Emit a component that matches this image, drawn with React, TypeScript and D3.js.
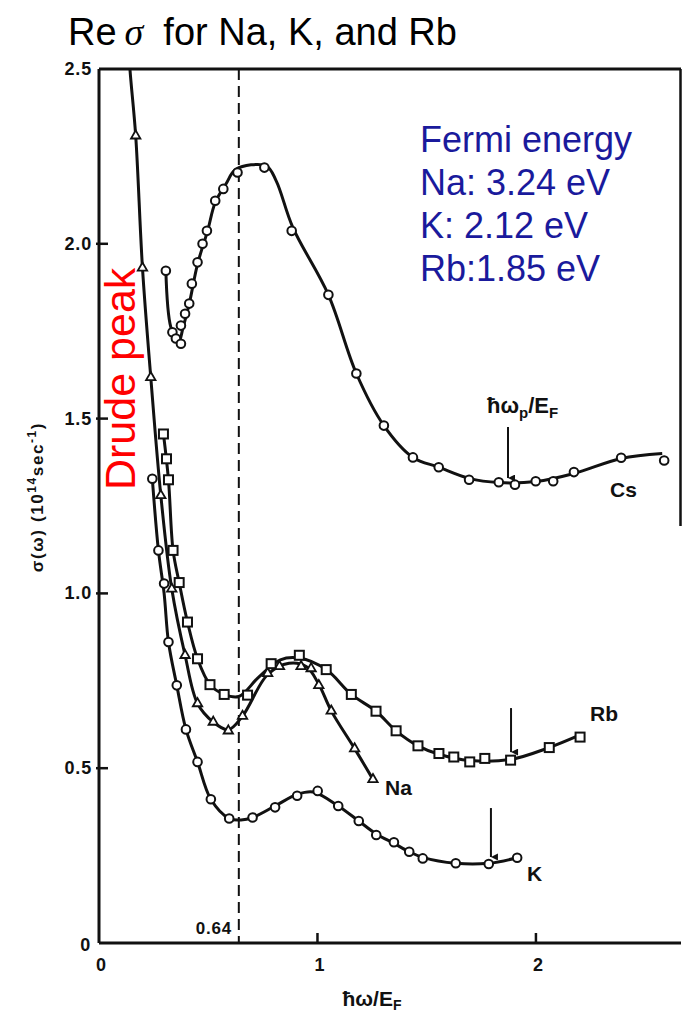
import React, { useEffect } from "react";
import * as d3 from "d3";

type P = [number, number];

// ---------- data (x = ħω/E_F, y = σ(ω) in 10^14 s^-1) ----------
const xTicks = [0, 1, 2];
const xTickLabels = ["0", "1", "2"];
const yTicks = [0, 0.5, 1.0, 1.5, 2.0, 2.5];
const yTickLabels = ["0", "0.5", "1.0", "1.5", "2.0", "2.5"];
const fermiLines = ["Fermi energy", "Na: 3.24 eV", "K: 2.12 eV", "Rb:1.85 eV"];
const dashedX = 0.64;

const csPoints: P[] = [
  [0.306, 1.923], [0.336, 1.747], [0.352, 1.729], [0.375, 1.714], [0.375, 1.766],
  [0.394, 1.8], [0.413, 1.829], [0.425, 1.886], [0.451, 1.947], [0.474, 2.0],
  [0.494, 2.037], [0.532, 2.123], [0.569, 2.157], [0.634, 2.204], [0.757, 2.218],
  [0.882, 2.037], [1.05, 1.854], [1.178, 1.629], [1.304, 1.48], [1.437, 1.389],
  [1.555, 1.361], [1.694, 1.325], [1.83, 1.318], [1.904, 1.311], [1.999, 1.321],
  [2.079, 1.321], [2.174, 1.347], [2.39, 1.388], [2.587, 1.38],
];
const csCurve: P[] = [
  [0.306, 1.923], [0.329, 1.761], [0.364, 1.718], [0.385, 1.761], [0.413, 1.828],
  [0.451, 1.942], [0.497, 2.037], [0.532, 2.118], [0.581, 2.171], [0.627, 2.213],
  [0.765, 2.223], [0.811, 2.18], [0.887, 2.047], [1.05, 1.854], [1.178, 1.629],
  [1.304, 1.48], [1.437, 1.389], [1.555, 1.361], [1.694, 1.329], [1.83, 1.317],
  [2.0, 1.32], [2.174, 1.343], [2.39, 1.386], [2.578, 1.4],
];

const naPoints: P[] = [
  [0.168, 2.309], [0.199, 1.931], [0.237, 1.618], [0.283, 1.28], [0.333, 1.013],
  [0.394, 0.823], [0.451, 0.685], [0.523, 0.632], [0.592, 0.607], [0.657, 0.649],
  [0.772, 0.771], [0.826, 0.791], [0.925, 0.791], [0.971, 0.785], [1.006, 0.737],
  [1.063, 0.664], [1.17, 0.556], [1.254, 0.468],
];
const naCurve: P[] = [
  [0.13, 2.62], [0.142, 2.497], [0.168, 2.309], [0.199, 1.931], [0.237, 1.618],
  [0.283, 1.28], [0.333, 1.013], [0.394, 0.823], [0.451, 0.685], [0.523, 0.632],
  [0.592, 0.61], [0.657, 0.649], [0.772, 0.768], [0.87, 0.8], [0.95, 0.79],
  [1.006, 0.74], [1.063, 0.664], [1.17, 0.556], [1.254, 0.468],
];

const rbPoints: P[] = [
  [0.295, 1.456], [0.309, 1.385], [0.318, 1.325], [0.339, 1.123], [0.367, 1.031],
  [0.405, 0.918], [0.451, 0.813], [0.508, 0.739], [0.573, 0.711], [0.68, 0.709],
  [0.788, 0.799], [0.917, 0.823], [1.04, 0.782], [1.155, 0.711], [1.268, 0.663],
  [1.36, 0.607], [1.46, 0.564], [1.556, 0.542], [1.624, 0.532], [1.697, 0.518],
  [1.766, 0.528], [1.884, 0.523], [2.061, 0.559], [2.202, 0.589],
];
const rbCurve: P[] = [
  [0.295, 1.456], [0.318, 1.325], [0.339, 1.123], [0.367, 1.031], [0.405, 0.918],
  [0.451, 0.813], [0.508, 0.739], [0.573, 0.711], [0.64, 0.705], [0.73, 0.76],
  [0.83, 0.81], [0.917, 0.815], [1.04, 0.782], [1.155, 0.711], [1.268, 0.663],
  [1.36, 0.607], [1.46, 0.564], [1.556, 0.54], [1.697, 0.522], [1.884, 0.525],
  [2.061, 0.559], [2.202, 0.595],
];

const kPoints: P[] = [
  [0.244, 1.328], [0.272, 1.123], [0.298, 1.028], [0.318, 0.861], [0.356, 0.737],
  [0.398, 0.611], [0.451, 0.518], [0.512, 0.411], [0.596, 0.356], [0.703, 0.359],
  [0.806, 0.388], [0.907, 0.421], [1.001, 0.435], [1.095, 0.392], [1.189, 0.349],
  [1.269, 0.309], [1.35, 0.288], [1.42, 0.261], [1.482, 0.242], [1.633, 0.228],
  [1.784, 0.226], [1.914, 0.244],
];
const kCurve: P[] = [
  [0.244, 1.328], [0.272, 1.123], [0.298, 1.0], [0.318, 0.861], [0.356, 0.737],
  [0.398, 0.611], [0.451, 0.518], [0.512, 0.411], [0.596, 0.356], [0.65, 0.352],
  [0.703, 0.359], [0.806, 0.392], [0.907, 0.425], [0.98, 0.432], [1.095, 0.392],
  [1.189, 0.349], [1.269, 0.312], [1.35, 0.285], [1.42, 0.261], [1.482, 0.245],
  [1.633, 0.228], [1.784, 0.228], [1.914, 0.244],
];

// arrows marking ħω_p/E_F : [x, yTop, yBottom]
const plasmaArrows: [number, number, number][] = [
  [1.872, 1.476, 1.33],
  [1.886, 0.672, 0.546],
  [1.794, 0.386, 0.246],
];

export default function App() {
  useEffect(() => {
    document.body.style.margin = "0";
  }, []);

  const W = 682;
  const H = 1021;
  const x = d3.scaleLinear().domain([0, 2.664]).range([99, 681]);
  const y = d3.scaleLinear().domain([0, 2.5]).range([943, 69]);

  const line = d3
    .line<P>()
    .x((d) => x(d[0]))
    .y((d) => y(d[1]))
    .curve(d3.curveCatmullRom.alpha(0.5));

  const tri = d3.symbol().type(d3.symbolTriangle).size(38)();
  const ink = "#111";
  const lblFont = "'Liberation Sans', Arial, sans-serif";

  const circles = (pts: P[], key: string) =>
    pts.map((d, i) => (
      <circle key={key + i} cx={x(d[0])} cy={y(d[1])} r={4.3} fill="#fff" stroke={ink} strokeWidth={2} />
    ));
  const squares = (pts: P[], key: string) =>
    pts.map((d, i) => (
      <rect key={key + i} x={x(d[0]) - 4.5} y={y(d[1]) - 4.5} width={9} height={9} fill="#fff" stroke={ink} strokeWidth={2} />
    ));
  const triangles = (pts: P[], key: string) =>
    pts.map((d, i) => (
      <path key={key + i} d={tri || ""} transform={`translate(${x(d[0])},${y(d[1])})`} fill="#fff" stroke={ink} strokeWidth={1.8} />
    ));

  return (
    <svg width={W} height={H} style={{ position: "absolute", left: 0, top: 0, background: "#fff" }}>
      <defs>
        <clipPath id="plotClip">
          <rect x={x(0)} y={y(2.5)} width={x(2.664) - x(0)} height={y(0) - y(2.5)} />
        </clipPath>
        <marker id="arrowHead" viewBox="0 0 10 10" refX="5" refY="10" markerWidth="7" markerHeight="9" orient="auto-start-reverse" markerUnits="userSpaceOnUse">
          <path d="M0,0 L10,0 L5,10 Z" fill={ink} />
        </marker>
      </defs>

      {/* title */}
      <text x={68} y={45} fontFamily={lblFont} fontSize={38} fill="#000">
        Re
        <tspan dx={8} fontFamily="'Liberation Serif', 'DejaVu Serif', serif" fontStyle="italic">σ</tspan>
        <tspan dx={20}>for Na, K, and Rb</tspan>
      </text>

      {/* frame */}
      <line x1={x(0)} x2={x(0)} y1={y(2.5)} y2={y(0)} stroke={ink} strokeWidth={3} />
      <line x1={x(0)} x2={681} y1={y(0)} y2={y(0)} stroke={ink} strokeWidth={3} />
      <line x1={x(0)} x2={681} y1={y(2.5)} y2={y(2.5)} stroke={ink} strokeWidth={3} />
      <line x1={680.5} x2={680.5} y1={y(2.5)} y2={526} stroke={ink} strokeWidth={2.5} />

      {/* y ticks */}
      {yTicks.map((t, i) => (
        <g key={"yt" + i}>
          {t > 0 && t < 2.5 && (
            <line x1={x(0) - 3} x2={x(0) + 9} y1={y(t)} y2={y(t)} stroke={ink} strokeWidth={2.5} />
          )}
          <text
            x={t === 0 ? 91 : 92}
            y={y(t) + (t === 0 ? 8 : 6)}
            textAnchor="end"
            fontFamily={lblFont}
            fontWeight="bold"
            fontSize={18}
            letterSpacing={0.8}
            fill={ink}
          >
            {yTickLabels[i]}
          </text>
        </g>
      ))}

      {/* x ticks */}
      {xTicks.map((t, i) => (
        <g key={"xt" + i}>
          {t > 0 && <line x1={x(t)} x2={x(t)} y1={y(0)} y2={y(0) - 10} stroke={ink} strokeWidth={2.5} />}
          <text x={x(t) + 2} y={971} textAnchor="middle" fontFamily={lblFont} fontWeight="bold" fontSize={18} fill={ink}>
            {xTickLabels[i]}
          </text>
        </g>
      ))}

      {/* axis titles */}
      <text
        transform={`translate(43,497) rotate(-90)`}
        textAnchor="middle"
        fontFamily={lblFont}
        fontWeight="bold"
        fontSize={17}
        letterSpacing={1.6}
        fill={ink}
      >
        σ(ω) (10<tspan dy={-7} fontSize={12}>14</tspan>
        <tspan dy={7}>sec</tspan>
        <tspan dy={-7} fontSize={12}>-1</tspan>
        <tspan dy={7}>)</tspan>
      </text>
      <text x={372} y={1006} textAnchor="middle" fontFamily={lblFont} fontWeight="bold" fontSize={21} fill={ink}>
        ħω/E<tspan dy={4} fontSize={14}>F</tspan>
      </text>

      {/* dashed line at 0.64 */}
      <line x1={x(dashedX)} x2={x(dashedX)} y1={y(2.5)} y2={y(0)} stroke={ink} strokeWidth={2} strokeDasharray="11,6" />
      <text x={232} y={934} textAnchor="end" fontFamily={lblFont} fontWeight="bold" fontSize={17} letterSpacing={0.8} fill={ink}>
        {dashedX.toFixed(2)}
      </text>

      {/* curves */}
      <g clipPath="url(#plotClip)" fill="none" stroke={ink} strokeWidth={3} strokeLinejoin="round">
        <path d={line(naCurve) || ""} />
        <path d={line(kCurve) || ""} />
        <path d={line(rbCurve) || ""} />
        <path d={line(csCurve) || ""} />
      </g>

      {/* markers */}
      <g>
        {triangles(naPoints, "na")}
        {circles(kPoints, "k")}
        {squares(rbPoints, "rb")}
        {circles(csPoints, "cs")}
      </g>

      {/* plasma frequency arrows */}
      {plasmaArrows.map((a, i) => (
        <line key={"ar" + i} x1={x(a[0])} x2={x(a[0])} y1={y(a[1])} y2={y(a[2])} stroke={ink} strokeWidth={2} markerEnd="url(#arrowHead)" />
      ))}
      <text x={487} y={413} fontFamily={lblFont} fontWeight="bold" fontSize={22} fill={ink}>
        ħω<tspan dy={5} fontSize={15}>p</tspan>
        <tspan dy={-5}>/E</tspan>
        <tspan dy={5} fontSize={15}>F</tspan>
      </text>

      {/* series labels */}
      <text x={610} y={497} fontFamily={lblFont} fontWeight="bold" fontSize={21} fill={ink}>Cs</text>
      <text x={590} y={721} fontFamily={lblFont} fontWeight="bold" fontSize={21} fill={ink}>Rb</text>
      <text x={385} y={795} fontFamily={lblFont} fontWeight="bold" fontSize={21} fill={ink}>Na</text>
      <text x={527} y={881} fontFamily={lblFont} fontWeight="bold" fontSize={21} fill={ink}>K</text>

      {/* Drude peak */}
      <text transform="translate(135,490) rotate(-90)" fontFamily={lblFont} fontSize={43} fill="#ff0000">
        Drude peak
      </text>

      {/* Fermi energy box */}
      {fermiLines.map((s, i) => (
        <text key={"fe" + i} x={420} y={152 + i * 43} fontFamily={lblFont} fontSize={36} fill="#1a1a9c">
          {s}
        </text>
      ))}
    </svg>
  );
}
